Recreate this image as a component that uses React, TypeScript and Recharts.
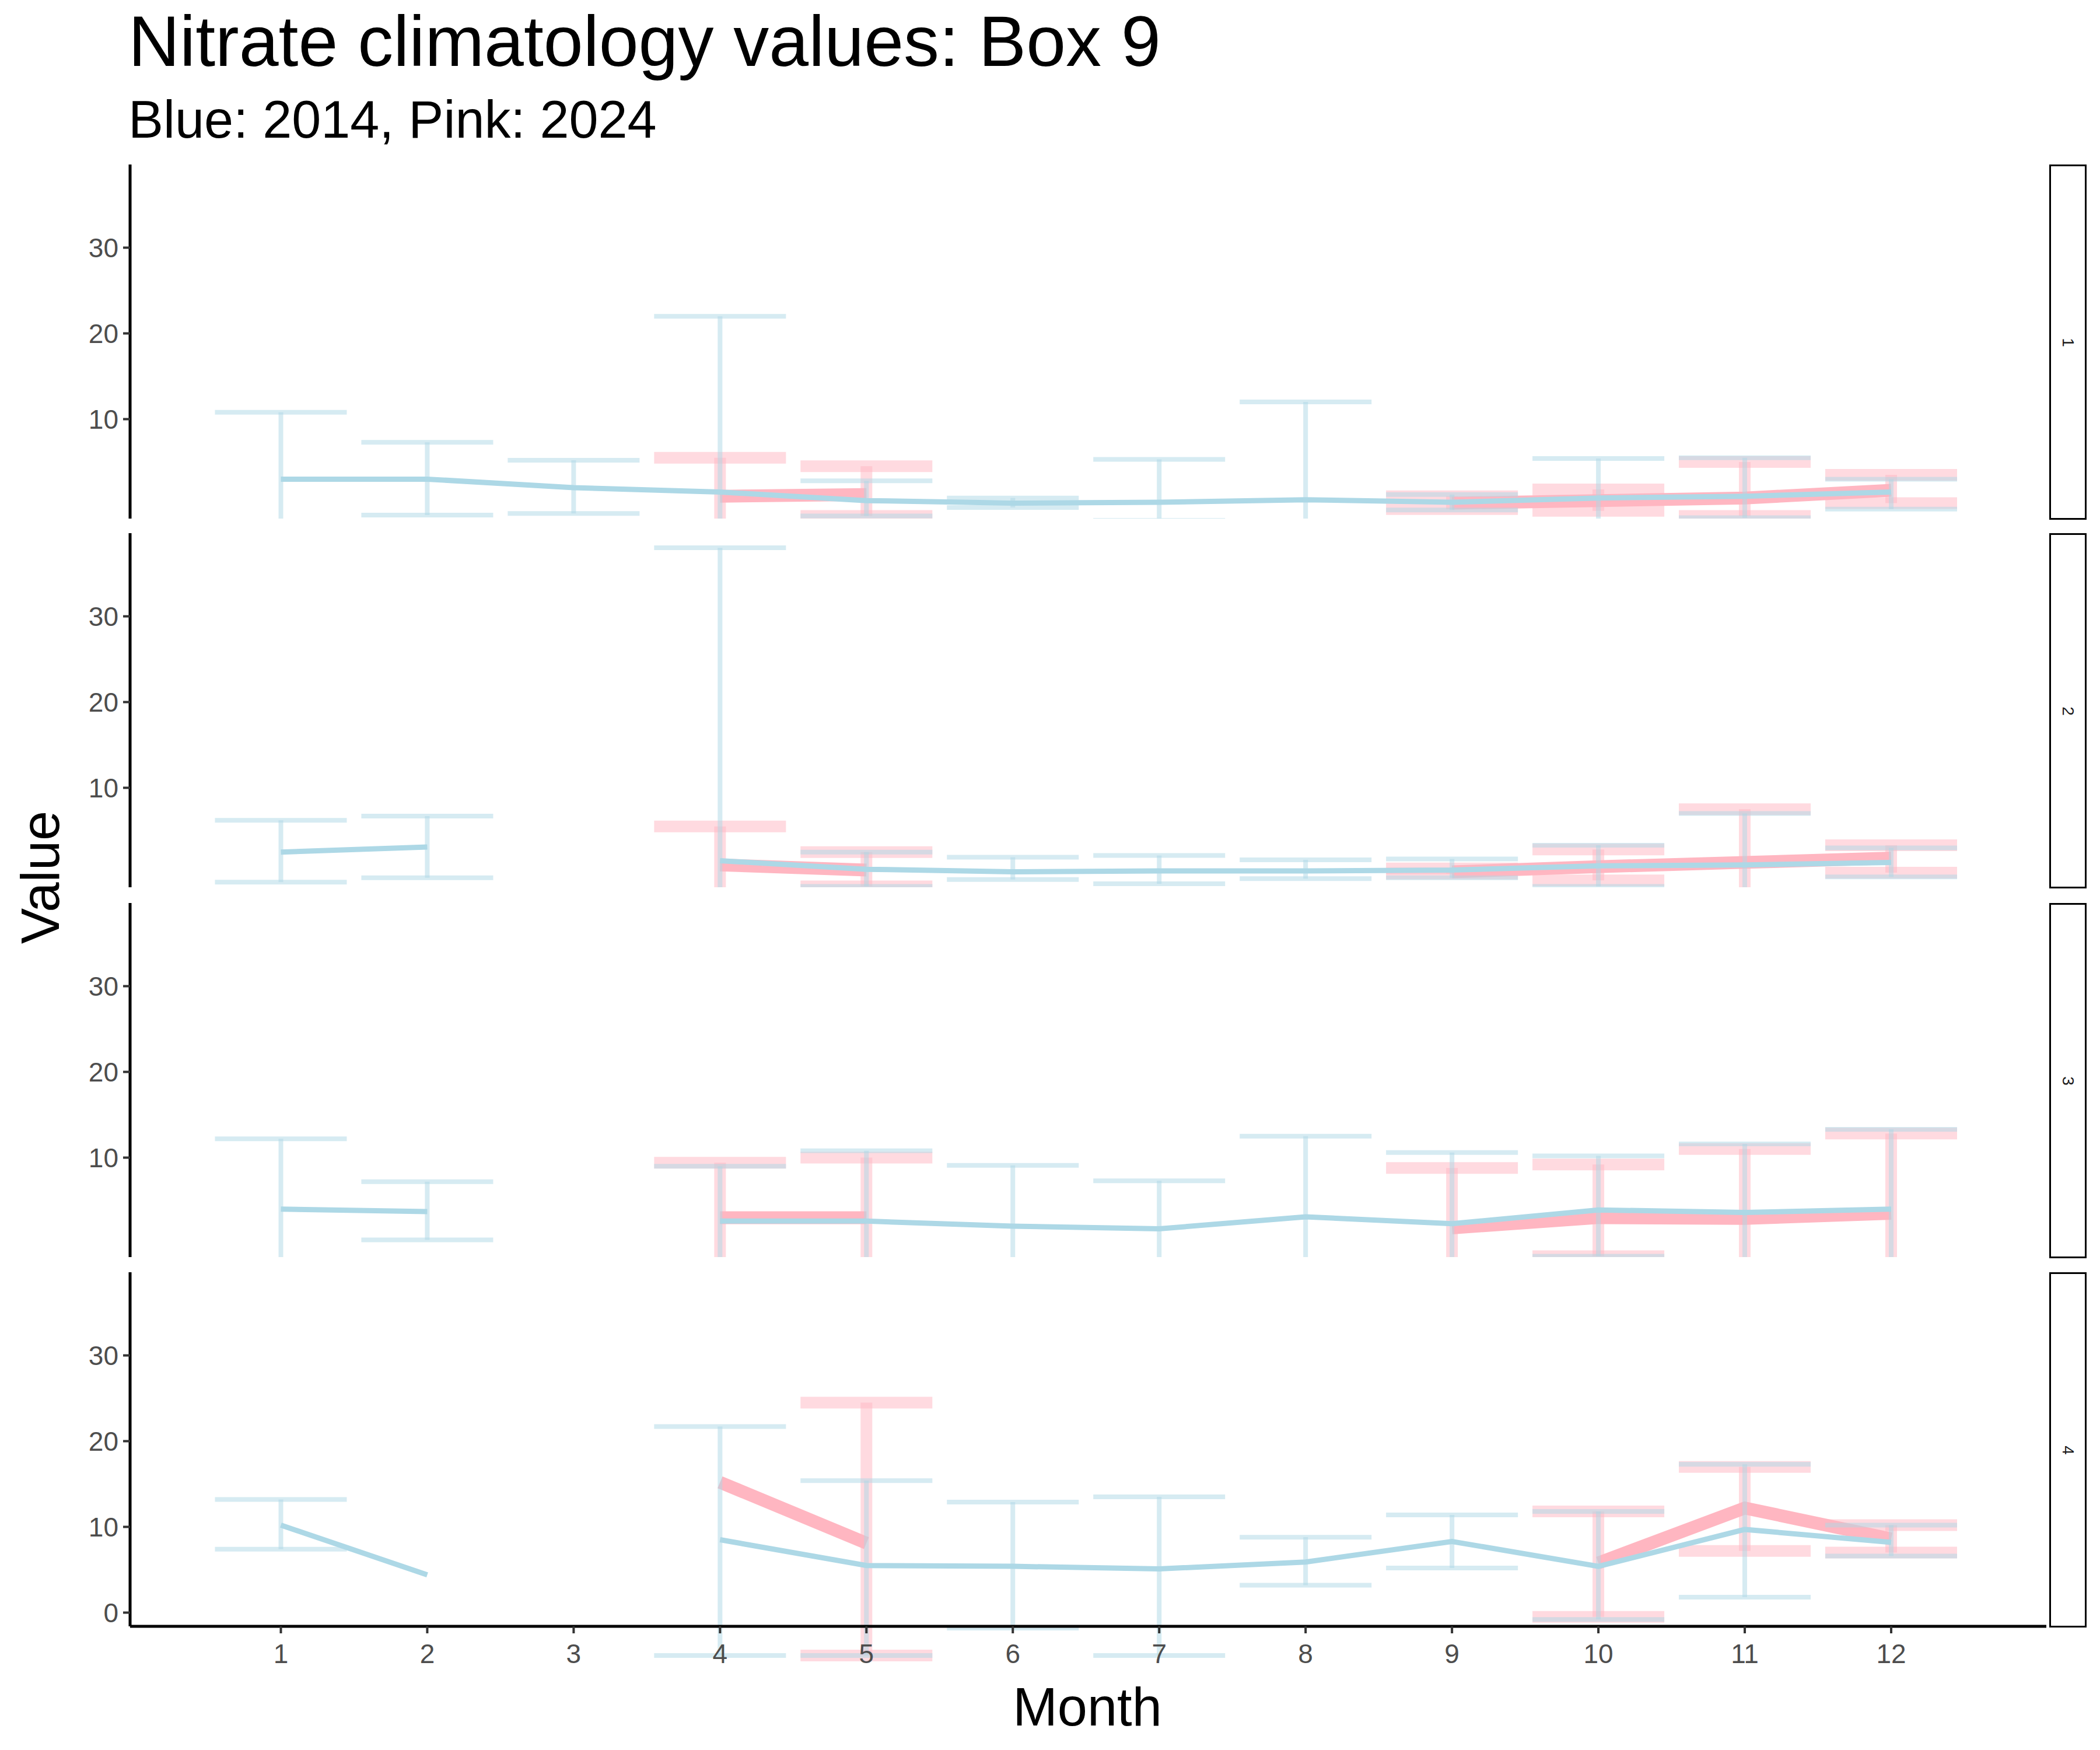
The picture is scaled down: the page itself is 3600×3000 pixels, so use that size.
import React from 'react';
import { ComposedChart, Line, XAxis, YAxis, ErrorBar } from 'recharts';

const months = [1, 2, 3, 4, 5, 6, 7, 8, 9, 10, 11, 12];
const yTicks = [0, 10, 20, 30];
const panelLabels = ['1', '2', '3', '4'];
const N = null;
const LO = -5;

const blueMean = [
  [3.0, 3.0, 2.0, 1.5, 0.5, 0.2, 0.3, 0.6, 0.3, 0.8, 1.0, 1.5],
  [2.5, 3.1, N, 1.5, 0.5, 0.2, 0.3, 0.3, 0.4, 0.9, 1.0, 1.3],
  [4.0, 3.7, N, 2.6, 2.6, 2.0, 1.7, 3.1, 2.3, 3.9, 3.6, 4.0],
  [10.2, 4.4, N, 8.5, 5.5, 5.4, 5.1, 5.9, 8.3, 5.4, 9.7, 8.2],
];
const blueLow = [
  [LO, -1.2, -1.0, LO, -1.3, -0.3, -1.8, LO, -0.6, LO, -1.5, -0.5],
  [-1.0, -0.5, N, LO, -1.5, -0.7, -1.2, -0.6, -0.5, -1.5, LO, -0.4],
  [LO, 0.4, N, LO, LO, LO, LO, LO, LO, -1.5, LO, LO],
  [7.4, N, N, LO, LO, -1.8, LO, 3.2, 5.2, -0.8, 1.8, 6.6],
];
const blueHigh = [
  [10.8, 7.3, 5.2, 22.0, 2.8, 0.8, 5.3, 12.0, 1.2, 5.4, 5.5, 3.0],
  [6.2, 6.7, N, 38.0, 2.5, 1.9, 2.1, 1.6, 1.7, 3.3, 7.0, 3.0],
  [12.2, 7.2, N, 9.0, 10.8, 9.1, 7.3, 12.5, 10.6, 10.2, 11.6, 13.3],
  [13.2, N, N, 21.7, 15.4, 12.9, 13.5, 8.8, 11.4, 11.8, 17.3, 10.2],
];
const pinkMean = [
  [N, N, N, 1.0, 1.2, N, N, N, 0.2, 0.5, 0.8, 1.7],
  [N, N, N, 1.0, 0.4, N, N, N, 0.2, 0.8, 1.3, 1.8],
  [N, N, N, 3.0, 3.0, N, N, N, 1.8, 3.0, 2.9, 3.5],
  [N, N, N, 15.2, 8.1, N, N, N, N, 5.8, 12.2, 8.6],
];
const pinkLow = [
  [N, N, N, LO, -1.3, N, N, N, -0.5, -0.7, -1.3, 0.2],
  [N, N, N, LO, -1.5, N, N, N, 0.0, -0.8, LO, 0.1],
  [N, N, N, LO, LO, N, N, N, LO, -1.5, LO, LO],
  [N, N, N, N, LO, N, N, N, N, -0.5, 7.2, 7.0],
];
const pinkHigh = [
  [N, N, N, 5.5, 4.5, N, N, N, 1.0, 1.8, 5.0, 3.5],
  [N, N, N, 5.5, 2.5, N, N, N, 0.6, 2.8, 7.5, 3.3],
  [N, N, N, 9.4, 10.0, N, N, N, 8.8, 9.2, 11.0, 12.8],
  [N, N, N, N, 24.5, N, N, N, N, 11.8, 17.0, 10.2],
];

const BLUE = '#ADD8E6';
const PINK = '#FFB6C1';
const PANEL_TOPS = [282, 914, 1548, 2181];
const PANEL_H = 607;
const LEFT = 223;
const RIGHT_EDGE = 3508;
const FONT = 'Liberation Sans, Arial, sans-serif';

function buildRows(p: number) {
  return months.map((m, i) => {
    const b = blueMean[p][i];
    const pm = pinkMean[p][i];
    const bl = blueLow[p][i], bh = blueHigh[p][i];
    const pl = pinkLow[p][i], ph = pinkHigh[p][i];
    return {
      month: m,
      blue: b,
      pink: pm,
      blueErr: b != null && bl != null && bh != null ? [b - bl, bh - b] : undefined,
      pinkErr: pm != null && pl != null && ph != null ? [pm - pl, ph - pm] : undefined,
    };
  });
}

function Panel({ p }: { p: number }) {
  const last = p === 3;
  const xH = last ? 110 : 0;
  const rows = buildRows(p);
  const yW = 120;
  return (
    <div style={{ position: 'absolute', left: 0, top: PANEL_TOPS[p] }}>
      <ComposedChart
        width={3600}
        height={PANEL_H + xH}
        data={rows}
        margin={{ top: 0, bottom: 0, left: LEFT - yW, right: 3600 - RIGHT_EDGE }}
      >
        <XAxis
          dataKey="month"
          type="number"
          domain={[-0.03, 13.06]}
          ticks={months}
          hide={!last}
          height={xH}
          allowDataOverflow
          axisLine={{ stroke: '#000', strokeWidth: 5 }}
          tickLine={{ stroke: '#333', strokeWidth: 4 }}
          tickSize={12}
          tick={{ fontSize: 46, fill: '#4d4d4d', fontFamily: FONT, dy: 16 }}
        />
        <YAxis
          type="number"
          domain={[-1.6, 39.7]}
          ticks={yTicks}
          allowDataOverflow
          width={yW}
          axisLine={{ stroke: '#000', strokeWidth: 5 }}
          tickLine={{ stroke: '#333', strokeWidth: 4 }}
          tickSize={12}
          tick={{ fontSize: 46, fill: '#4d4d4d', fontFamily: FONT, dx: -6 }}
        />
        <Line dataKey="pink" stroke={PINK} strokeWidth={22} dot={false} isAnimationActive={false} connectNulls={false}>
          <ErrorBar dataKey="pinkErr" width={113} stroke={PINK} strokeWidth={20} strokeOpacity={0.5} direction="y" isAnimationActive={false} />
        </Line>
        <Line dataKey="blue" stroke={BLUE} strokeWidth={9} dot={false} isAnimationActive={false} connectNulls={false}>
          <ErrorBar dataKey="blueErr" width={113} stroke={BLUE} strokeWidth={8} strokeOpacity={0.5} direction="y" isAnimationActive={false} />
        </Line>
      </ComposedChart>
      <div
        style={{
          position: 'absolute', left: 3513, top: 0, width: 58, height: PANEL_H - 4,
          border: '3px solid #000', background: '#fff', display: 'flex',
          alignItems: 'center', justifyContent: 'center',
        }}
      >
        <div style={{ transform: 'rotate(90deg)', fontSize: 28, fontFamily: FONT, color: '#1a1a1a' }}>{panelLabels[p]}</div>
      </div>
    </div>
  );
}

export default function App() {
  return (
    <div style={{ position: 'absolute', left: 0, top: 0, width: 3600, height: 3000, background: '#fff', fontFamily: FONT }}>
      <div style={{ position: 'absolute', left: 220, top: 10, fontSize: 122, lineHeight: 1 }}>Nitrate climatology values: Box 9</div>
      <div style={{ position: 'absolute', left: 220, top: 160, fontSize: 90, lineHeight: 1 }}>Blue: 2014, Pink: 2024</div>
      {[0, 1, 2, 3].map((p) => <Panel key={p} p={p} />)}
      <div style={{ position: 'absolute', left: 69, top: 1504, transform: 'translate(-50%, -50%) rotate(-90deg)', fontSize: 92, lineHeight: 1 }}>Value</div>
      <div style={{ position: 'absolute', left: 1864, top: 2880, transform: 'translateX(-50%)', fontSize: 92, lineHeight: 1 }}>Month</div>
    </div>
  );
}
